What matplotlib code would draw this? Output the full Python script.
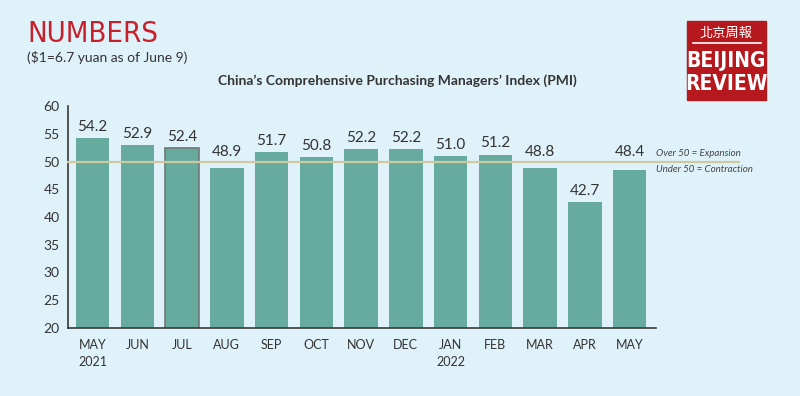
import matplotlib
matplotlib.use("Agg")
import matplotlib.pyplot as plt
import matplotlib.patches as patches

months = ["MAY\n2021", "JUN", "JUL", "AUG", "SEP", "OCT", "NOV", "DEC",
          "JAN\n2022", "FEB", "MAR", "APR", "MAY"]
pmi = [54.2, 52.9, 52.4, 48.9, 51.7, 50.8, 52.2, 52.2, 51.0, 51.2, 48.8, 42.7, 48.4]
yticks = [20, 25, 30, 35, 40, 45, 50, 55, 60]
threshold = 50

bg = "#dff1f9"
bar_color = "#67ab9f"
text_color = "#333333"

plt.rcParams['font.family'] = ['Lato', 'DejaVu Sans']

fig = plt.figure(figsize=(8, 3.96), dpi=100, facecolor=bg)
ax = fig.add_axes([0.085, 0.172, 0.735, 0.56])
ax.set_facecolor(bg)

x = list(range(len(months)))
bars = ax.bar(x, pmi, width=0.75, color=bar_color, zorder=2)
# the July bar has a grey outline in the original
bars[2].set_edgecolor("#707878")
bars[2].set_linewidth(1.2)

for xi, v in zip(x, pmi):
    ly = v + 0.8
    # labels of the bars just under 50 sit above the 50 line
    if threshold - 2 < v < threshold:
        ly = threshold + 0.4
    ax.text(xi, ly, f"{v:.1f}", ha="center", va="bottom",
            fontsize=11, color=text_color)

# 50 line runs on past the axis to the notes
ax.plot([-0.55, 14.45], [threshold, threshold], color="#cfc9a0", lw=1.6,
        zorder=3, clip_on=False)
ax.text(12.6, threshold + 0.6, "Over 50 = Expansion", fontsize=7,
        style="italic", color="#444444", va="bottom", ha="left")
ax.text(12.6, threshold - 0.6, "Under 50 = Contraction", fontsize=7,
        style="italic", color="#444444", va="top", ha="left")

ax.set_xlim(-0.55, 12.59)
ax.set_ylim(20, 60)
ax.set_yticks(yticks)
ax.set_xticks(x)
ax.set_xticklabels(months, fontsize=9, color=text_color, linespacing=1.5)
ax.tick_params(axis="y", labelsize=10, labelcolor=text_color, length=0, pad=6)
ax.tick_params(axis="x", length=0, pad=8)
for s in ["top", "right"]:
    ax.spines[s].set_visible(False)
for s in ["left", "bottom"]:
    ax.spines[s].set_color("#3a3a3a")
    ax.spines[s].set_linewidth(1.2)

# header
fig.text(0.034, 0.915, "NUMBERS", fontsize=21, color="#c8202a",
         family=["DejaVu Sans"], fontstretch="condensed", va="center")
fig.text(0.034, 0.855, "($1=6.7 yuan as of June 9)", fontsize=10,
         color=text_color, va="center")
fig.text(0.497, 0.797, "China\u2019s Comprehensive Purchasing Managers\u2019 Index (PMI)",
         fontsize=10, weight="bold", color=text_color, ha="center", va="center")

# logo
fig.patches.append(patches.Rectangle((0.859, 0.747), 0.099, 0.201,
                                     transform=fig.transFigure,
                                     color="#b5191d", zorder=1))
fig.text(0.908, 0.917, "北京周報", fontsize=9.5, color="white", ha="center",
         va="center", family=["Noto Sans CJK TC", "DejaVu Sans"])
fig.lines.append(plt.Line2D([0.866, 0.951], [0.892, 0.892],
                            transform=fig.transFigure, color="white", lw=1.2))
fig.text(0.908, 0.846, "BEIJING", fontsize=15, color="white", ha="center",
         va="center", weight="bold", family=["DejaVu Sans"],
         fontstretch="condensed")
fig.text(0.908, 0.788, "REVIEW", fontsize=15, color="white", ha="center",
         va="center", weight="bold", family=["DejaVu Sans"],
         fontstretch="condensed")

fig.savefig("out.png", dpi=100, facecolor=bg)
